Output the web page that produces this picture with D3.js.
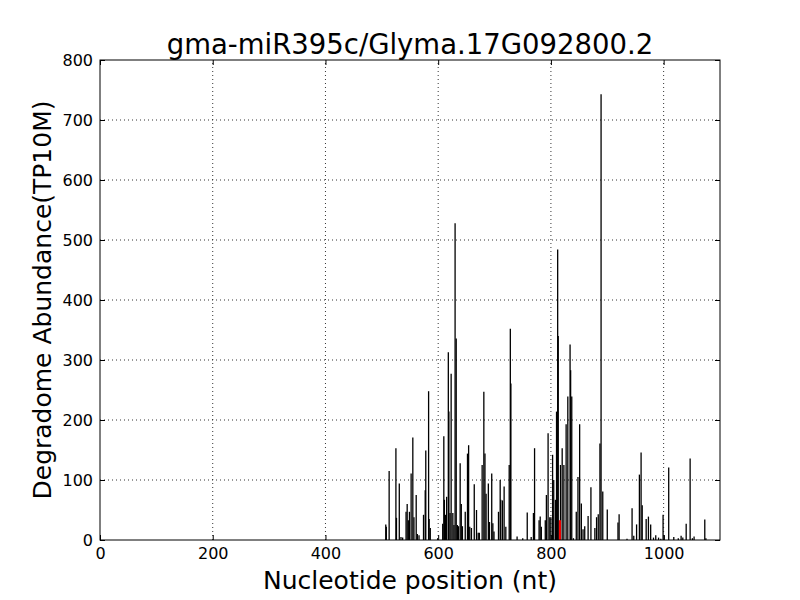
<!DOCTYPE html>
<html>
<head>
<meta charset="utf-8">
<script src="https://cdn.jsdelivr.net/npm/d3@7"></script>
<style>
  html, body { margin: 0; padding: 0; background: #fff; }
  svg { display: block; }
  text { font-family: "DejaVu Sans", sans-serif; fill: #000; }
</style>
</head>
<body>
<svg id="chart" width="800" height="600"></svg>
<script>
const title = "gma-miR395c/Glyma.17G092800.2";
const xLabel = "Nucleotide position (nt)";
const yLabel = "Degradome Abundance(TP10M)";
const xTicks = [0, 200, 400, 600, 800, 1000];
const yTicks = [0, 100, 200, 300, 400, 500, 600, 700, 800];
const positions = [507,508,513,525,526,531,534,537,543,545,547,549,552,555,557,561,563,566,574,577,578,583,584,586,599,
  608,610,611,613,615,618,619,621,623,626,628,630,632,634,636,639,641,643,648,652,654,656,659,664,668,671,673,678,681,683,685,689,691,695,697,699,
  707,710,711,714,717,720,726,728,729,740,750,758,765,769,771,779,781,783,790,792,795,798,800,803,805,808,810,812,813,
  817,820,823,827,830,834,835,837,840,845,848,851,854,857,860,866,871,878,881,884,887,889,892,900,919,921,935,944,947,952,957,960,962,969,973,977,982,986,991,995,999,
  1001,1009,1018,1026,1031,1034,1040,1047,1051,1054,1073,1075];
const abundance = [26,22,115,153,37,94,5,4,47,60,33,47,111,171,38,75,10,8,42,83,149,248,35,20,3,
  27,173,67,42,72,313,214,45,277,45,25,528,336,25,23,128,60,23,47,144,158,22,20,93,50,12,12,125,247,144,77,94,30,111,28,14,
  47,100,67,66,89,22,125,352,261,6,3,46,5,45,153,33,39,22,33,75,178,38,38,142,100,67,214,484,340,
  125,153,125,193,239,326,283,239,3,47,105,193,61,18,23,40,88,20,38,43,161,743,81,51,29,43,2,53,7,26,109,146,58,35,39,26,4,8,4,2,42,
  8,121,5,3,7,4,27,136,3,6,34,3];
const targetPosition = [816];
const targetAbundance = [33];

const svg = d3.select("#chart");
const margin = {left: 100, right: 80, top: 60, bottom: 60};
const W = 800, H = 600;
const x = d3.scaleLinear().domain([0, 1100]).range([margin.left, W - margin.right]);
const y = d3.scaleLinear().domain([0, 800]).range([H - margin.bottom, margin.top]);

// grid
const grid = svg.append("g");
xTicks.slice(1).forEach(t => {
  grid.append("line").attr("x1", x(t)).attr("x2", x(t)).attr("y1", y(0)).attr("y2", y(800))
    .attr("stroke", "#000").attr("stroke-width", 0.8).attr("stroke-dasharray", "1,3");
});
yTicks.slice(1, -1).forEach(t => {
  grid.append("line").attr("x1", x(0)).attr("x2", x(1100)).attr("y1", y(t)).attr("y2", y(t))
    .attr("stroke", "#000").attr("stroke-width", 0.8).attr("stroke-dasharray", "1,3");
});

// bars
const data = positions.map((p, i) => ({p, v: abundance[i]}));
svg.append("g").selectAll("line").data(data).join("line")
  .attr("x1", d => x(d.p)).attr("x2", d => x(d.p))
  .attr("y1", y(0)).attr("y2", d => y(d.v))
  .attr("stroke", "#000").attr("stroke-width", 1.3);
const tdata = targetPosition.map((p, i) => ({p, v: targetAbundance[i]}));
svg.append("g").selectAll("line").data(tdata).join("line")
  .attr("x1", d => x(d.p)).attr("x2", d => x(d.p))
  .attr("y1", y(0)).attr("y2", d => y(d.v))
  .attr("stroke", "#ff0000").attr("stroke-width", 2);

// axes (ticks inside)
const tickLen = 5;
const fmt = d3.format("d");
const xb = svg.append("g").attr("transform", `translate(0,${y(0)})`)
  .call(d3.axisBottom(x).tickValues(xTicks).tickSize(-tickLen).tickPadding(8).tickFormat(fmt));
const xt = svg.append("g").attr("transform", `translate(0,${y(800)})`)
  .call(d3.axisTop(x).tickValues(xTicks).tickSize(-tickLen).tickFormat(""));
const yl = svg.append("g").attr("transform", `translate(${x(0)},0)`)
  .call(d3.axisLeft(y).tickValues(yTicks).tickSize(-tickLen).tickPadding(7).tickFormat(fmt));
const yr = svg.append("g").attr("transform", `translate(${x(1100)},0)`)
  .call(d3.axisRight(y).tickValues(yTicks).tickSize(-tickLen).tickFormat(""));
[xb, xt, yl, yr].forEach(g => {
  g.select(".domain").remove();
  g.selectAll(".tick line").attr("stroke", "#000").attr("stroke-width", 1);
  g.selectAll("text").attr("font-size", 16).attr("font-family", "DejaVu Sans").attr("fill", "#000");
});
// frame
svg.append("rect").attr("x", x(0)).attr("y", y(800)).attr("width", x(1100) - x(0)).attr("height", y(0) - y(800))
  .attr("fill", "none").attr("stroke", "#000").attr("stroke-width", 1);

// labels
svg.append("text").attr("x", (x(0) + x(1100)) / 2).attr("y", 54).attr("text-anchor", "middle")
  .attr("font-size", 27.5).text(title);
svg.append("text").attr("x", (x(0) + x(1100)) / 2).attr("y", 589).attr("text-anchor", "middle")
  .attr("font-size", 25).text(xLabel);
svg.append("text").attr("transform", `translate(51,${(y(0) + y(800)) / 2}) rotate(-90)`).attr("text-anchor", "middle")
  .attr("font-size", 25).text(yLabel);
</script>
</body>
</html>
